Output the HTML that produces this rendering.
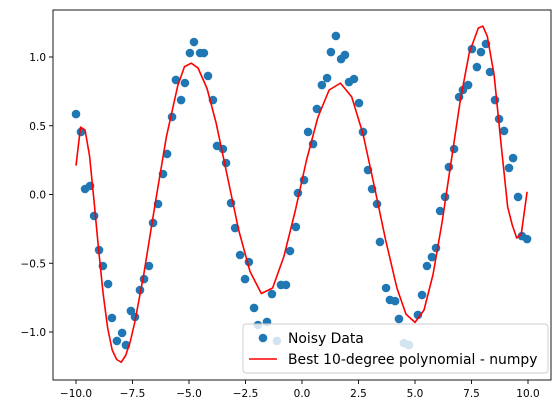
<!DOCTYPE html>
<html><head><meta charset="utf-8"><style>
html,body{margin:0;padding:0;background:#fff;}
svg{display:block;font-family:"DejaVu Sans","Liberation Sans",sans-serif;}
</style></head><body>
<svg id="chart" width="559" height="413"></svg>
<script>
const dataX=[-10.00,-9.78,-9.60,-9.38,-9.20,-8.98,-8.81,-8.58,-8.41,-8.19,-7.96,-7.79,-7.57,-7.39,-7.17,-6.99,-6.77,-6.59,-6.37,-6.15,-5.97,-5.75,-5.58,-5.35,-5.18,-4.96,-4.78,-4.51,-4.34,-4.16,-3.94,-3.76,-3.50,-3.36,-3.14,-2.96,-2.74,-2.52,-2.35,-2.12,-1.95,-1.73,-1.55,-1.33,-1.11,-0.93,-0.71,-0.53,-0.27,-0.18,0.09,0.27,0.49,0.66,0.88,1.11,1.28,1.50,1.73,1.90,2.08,2.30,2.52,2.70,2.92,3.10,3.32,3.45,3.72,3.89,4.12,4.29,4.51,4.73,5.13,5.31,5.53,5.75,5.93,6.11,6.33,6.50,6.73,6.95,7.12,7.35,7.52,7.74,7.92,8.14,8.32,8.54,8.72,8.94,9.16,9.34,9.56,9.73,9.96];
const dataY=[0.585,0.455,0.04,0.062,-0.156,-0.404,-0.52,-0.651,-0.898,-1.065,-1.007,-1.095,-0.847,-0.891,-0.695,-0.615,-0.52,-0.207,-0.069,0.149,0.295,0.564,0.833,0.687,0.811,1.029,1.109,1.029,1.029,0.862,0.687,0.353,0.331,0.229,-0.062,-0.244,-0.44,-0.615,-0.491,-0.825,-0.949,-1.044,-0.927,-0.724,-1.065,-0.658,-0.658,-0.411,-0.236,0.011,0.105,0.455,0.367,0.622,0.796,0.847,1.036,1.153,0.985,1.015,0.818,0.84,0.665,0.455,0.178,0.04,-0.069,-0.345,-0.68,-0.767,-0.775,-0.905,-1.08,-1.095,-0.876,-0.731,-0.52,-0.455,-0.389,-0.12,-0.018,0.2,0.331,0.709,0.76,0.796,1.058,0.927,1.036,1.095,0.891,0.687,0.549,0.462,0.193,0.265,-0.018,-0.302,-0.324];
const fitX=[-10,-9.8,-9.6,-9.4,-9.2,-9.0,-8.8,-8.6,-8.4,-8.2,-8.0,-7.8,-7.6,-7.4,-7.0,-6.5,-6.0,-5.5,-5.2,-4.9,-4.6,-4.2,-3.8,-3.3,-2.8,-2.3,-1.8,-1.3,-0.8,-0.3,0.2,0.7,1.2,1.7,2.2,2.7,3.2,3.7,4.2,4.6,5.0,5.4,5.8,6.2,6.6,7.0,7.4,7.8,8.0,8.2,8.5,8.8,9.1,9.3,9.5,9.7,9.96];
const fitY=[0.21,0.49,0.47,0.28,-0.05,-0.40,-0.72,-0.97,-1.13,-1.20,-1.22,-1.17,-1.07,-0.93,-0.58,-0.07,0.42,0.79,0.93,0.955,0.92,0.77,0.52,0.13,-0.26,-0.56,-0.72,-0.68,-0.45,-0.12,0.25,0.56,0.76,0.81,0.71,0.44,0.06,-0.33,-0.68,-0.87,-0.93,-0.84,-0.58,-0.2,0.24,0.68,1.03,1.21,1.225,1.15,0.87,0.38,-0.09,-0.22,-0.316,-0.29,0.02];
const xTicks=[-10,-7.5,-5,-2.5,0,2.5,5,7.5,10];
const xTickLabels=["−10.0","−7.5","−5.0","−2.5","0.0","2.5","5.0","7.5","10.0"];
const yTicks=[-1,-0.5,0,0.5,1];
const yTickLabels=["−1.0","−0.5","0.0","0.5","1.0"];

const NS="http://www.w3.org/2000/svg";
const svg=document.getElementById('chart');
const L=53,R=551,T=10,B=380;
const sx=v=>302+v*22.6;
const sy=v=>194.5-v*137.5;
function mk(tag,attrs,parent){const e=document.createElementNS(NS,tag);for(const k in attrs)e.setAttribute(k,attrs[k]);(parent||svg).appendChild(e);return e;}

const pts=mk('g',{});


dataX.forEach((x,i)=>{const c=mk('circle',{cx:sx(x),cy:sy(dataY[i]),r:4.3,fill:'#1f77b4'},pts);

});

const line=mk('polyline',{points:fitX.map((x,i)=>sx(x)+','+sy(fitY[i])).join(' '),fill:'none',stroke:'#ff0000','stroke-width':1.6,'stroke-linejoin':'round'});



const frame=mk('rect',{x:L,y:T,width:R-L,height:B-T,fill:'none',stroke:'#000','stroke-width':0.9});



xTicks.forEach((v,i)=>{const x=sx(v);mk('line',{x1:x,x2:x,y1:B,y2:B+4,stroke:'#000','stroke-width':0.9});
const t=mk('text',{x:x,y:B+17,'font-size':10.5,'text-anchor':'middle',fill:'#000'});t.textContent=xTickLabels[i];

});
yTicks.forEach((v,i)=>{const y=sy(v);mk('line',{x1:L-4,x2:L,y1:y,y2:y,stroke:'#000','stroke-width':0.9});
const t=mk('text',{x:L-7,y:y+4,'font-size':10.5,'text-anchor':'end',fill:'#000'});t.textContent=yTickLabels[i];

});

const lg=mk('g',{});


mk('rect',{x:243,y:324,width:305,height:49,rx:3,fill:'#fff','fill-opacity':0.8,stroke:'#ccc','stroke-width':0.9},lg);
const lc=mk('circle',{cx:263,cy:338,r:4.3,fill:'#1f77b4'},lg);


const t1=mk('text',{x:288,y:343,'font-size':13.9,fill:'#000'},lg);t1.textContent='Noisy Data';


const ll=mk('line',{x1:249,x2:277,y1:359,y2:359,stroke:'#ff0000','stroke-width':1.6},lg);


const t2=mk('text',{x:288,y:364,'font-size':13.9,fill:'#000'},lg);t2.textContent='Best 10-degree polynomial - numpy';


</script>
</body></html>
